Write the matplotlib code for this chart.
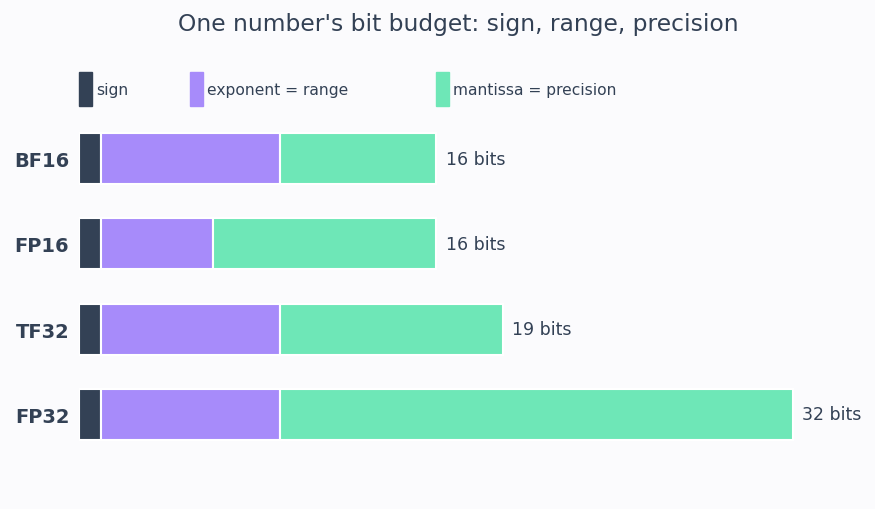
import matplotlib
matplotlib.use("Agg")
import matplotlib.pyplot as plt
from matplotlib.patches import Rectangle

formats = ["BF16", "FP16", "TF32", "FP32"]
sign_bits = [1, 1, 1, 1]
exponent_bits = [8, 5, 8, 8]
mantissa_bits = [7, 10, 10, 23]

parts = ["sign", "exponent = range", "mantissa = precision"]
colors = ["#334155", "#a78bfa", "#6ee7b7"]
bg = "#fbfbfd"
ink = "#334155"

W, H = 875, 510
fig = plt.figure(figsize=(W / 100, H / 100), dpi=100, facecolor=bg)
# axes placed in pixel terms: x=0 at 79px, 22.3 px per bit
px_per_bit = 22.3
xmax = 35
ax = fig.add_axes([79 / W, (H - 458) / H, xmax * px_per_bit / W, 341 / H])
ax.set_facecolor(bg)

y = list(range(len(formats)))
left = [0] * len(formats)
for vals, c in zip([sign_bits, exponent_bits, mantissa_bits], colors):
    ax.barh(y, vals, left=left, height=0.6, color=c, edgecolor="white", linewidth=1.5)
    left = [l + v for l, v in zip(left, vals)]

for yi, total in zip(y, left):
    ax.annotate(f"{total} bits", (total, yi), xytext=(7, 0), textcoords="offset points",
                va="center", ha="left", fontsize=12.5, color=ink)

ax.set_xlim(0, xmax)
ax.set_ylim(3.5, -0.5)
ax.set_yticks(y)
ax.set_yticklabels(formats, fontsize=14, fontweight="bold", color=ink, va="center")
for t in ax.get_yticklabels():
    t.set_verticalalignment("center_baseline")
ax.tick_params(axis="y", length=0, pad=7)
ax.set_xticks([])
for s in ax.spines.values():
    s.set_visible(False)

# legend drawn by hand so the gaps match
for name, c, x0 in zip(parts, colors, [79, 190, 436]):
    fig.patches.append(Rectangle((x0 / W, (H - 107) / H), 13 / W, 34 / H,
                                 transform=fig.transFigure, color=c))
    fig.text((x0 + 17) / W, (H - 90) / H, name, fontsize=11.2, color=ink,
             va="center", ha="left")

fig.text(458 / W, (H - 25) / H, "One number's bit budget: sign, range, precision",
         fontsize=16.8, color=ink, ha="center", va="center")

fig.savefig("out.png", dpi=100, facecolor=bg)
